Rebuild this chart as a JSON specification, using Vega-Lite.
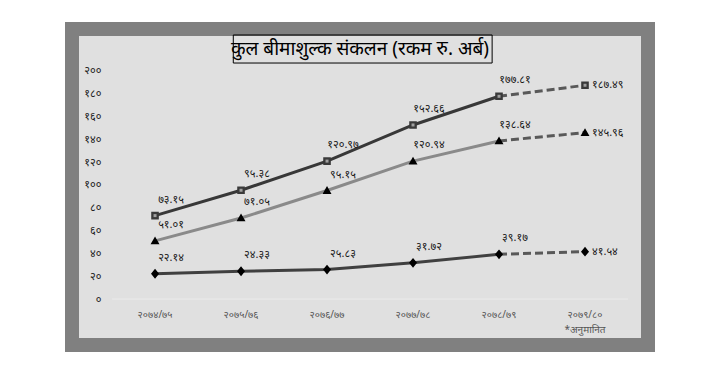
{
  "$schema": "https://vega.github.io/schema/vega-lite/v6.json",
  "width": 576,
  "height": 316,
  "autosize": {"type": "none"},
  "padding": {"left": 72, "top": 29, "right": 69, "bottom": 27},
  "background": "white",
  "title": {
    "text": "कुल बीमाशुल्क संकलन (रकम रु. अर्ब)",
    "fontSize": 19,
    "fontWeight": "normal",
    "color": "#000000",
    "offset": -39,
    "frame": "group",
    "baseline": "middle",
    "anchor": "middle"
  },
  "data": {
    "values": [
      {"year": "२०७४/७५", "series": "जीवन", "value": 51.01, "label": "५१.०१"},
      {"year": "२०७५/७६", "series": "जीवन", "value": 71.05, "label": "७१.०५"},
      {"year": "२०७६/७७", "series": "जीवन", "value": 95.15, "label": "९५.१५"},
      {"year": "२०७७/७८", "series": "जीवन", "value": 120.94, "label": "१२०.९४"},
      {"year": "२०७८/७९", "series": "जीवन", "value": 138.64, "label": "१३८.६४"},
      {"year": "२०७९/८०", "series": "जीवन", "value": 145.96, "label": "१४५.९६"},
      {"year": "२०७४/७५", "series": "निर्जीवन", "value": 22.14, "label": "२२.१४"},
      {"year": "२०७५/७६", "series": "निर्जीवन", "value": 24.33, "label": "२४.३३"},
      {"year": "२०७६/७७", "series": "निर्जीवन", "value": 25.83, "label": "२५.८३"},
      {"year": "२०७७/७८", "series": "निर्जीवन", "value": 31.72, "label": "३१.७२"},
      {"year": "२०७८/७९", "series": "निर्जीवन", "value": 39.17, "label": "३९.१७"},
      {"year": "२०७९/८०", "series": "निर्जीवन", "value": 41.54, "label": "४१.५४"},
      {"year": "२०७४/७५", "series": "जम्मा", "value": 73.15, "label": "७३.१५"},
      {"year": "२०७५/७६", "series": "जम्मा", "value": 95.38, "label": "९५.३८"},
      {"year": "२०७६/७७", "series": "जम्मा", "value": 120.97, "label": "१२०.९७"},
      {"year": "२०७७/७८", "series": "जम्मा", "value": 152.66, "label": "१५२.६६"},
      {"year": "२०७८/७९", "series": "जम्मा", "value": 177.81, "label": "१७७.८१"},
      {"year": "२०७९/८०", "series": "जम्मा", "value": 187.49, "label": "१८७.४९"}
    ]
  },
  "encoding": {
    "x": {
      "field": "year",
      "type": "nominal",
      "sort": null,
      "scale": {
        "type": "band",
        "domain": ["२०७४/७५", "२०७५/७६", "२०७६/७७", "२०७७/७८", "२०७८/७९", "२०७९/८०"],
        "paddingInner": 0,
        "paddingOuter": 0.349,
        "align": 0.667
      },
      "axis": {
        "title": null,
        "orient": "bottom",
        "offset": -36,
        "domain": false,
        "ticks": false,
        "grid": false,
        "labelPadding": 0,
        "labelAngle": 0,
        "labelFontSize": 10,
        "labelColor": "#555555",
        "labelLineHeight": 15,
        "labelExpr": "datum.value == '२०७९/८०' ? ['२०७९/८०', '*अनुमानित'] : datum.value"
      }
    },
    "y": {
      "field": "value",
      "type": "quantitative",
      "scale": {"domain": [-40.35, 236.84], "nice": false, "zero": false},
      "axis": {
        "title": null,
        "offset": -29,
        "domain": false,
        "ticks": false,
        "grid": false,
        "labelPadding": 0,
        "labelFontSize": 11,
        "labelColor": "#222222",
        "values": [0, 20, 40, 60, 80, 100, 120, 140, 160, 180, 200],
        "labelExpr": "replace(replace(replace(replace(replace(replace(replace(replace(replace(replace(datum.label, /0/g, '०'), /1/g, '१'), /2/g, '२'), /3/g, '३'), /4/g, '४'), /5/g, '५'), /6/g, '६'), /7/g, '७'), /8/g, '८'), /9/g, '९')"
      }
    }
  },
  "layer": [
    {
      "transform": [{"filter": "datum.year == '२०७४/७५' && datum.series == 'जम्मा'"}],
      "mark": {"type": "rule", "color": "#ebebeb", "strokeWidth": 1},
      "encoding": {
        "x": {"datum": "२०७४/७५", "bandPosition": 0},
        "x2": {"datum": "२०७९/८०", "bandPosition": 1},
        "y": {"datum": 0}
      }
    },
    {
      "transform": [{"filter": "datum.year != '२०७९/८०'"}],
      "mark": {"type": "line", "strokeWidth": 3},
      "encoding": {
        "stroke": {
          "field": "series",
          "type": "nominal",
          "scale": {"domain": ["जीवन", "निर्जीवन", "जम्मा"], "range": ["#8a8a8a", "#404040", "#383838"]},
          "legend": null
        }
      }
    },
    {
      "transform": [{"filter": "datum.year == '२०७८/७९' || datum.year == '२०७९/८०'"}],
      "mark": {"type": "line", "strokeWidth": 3, "color": "#595959", "strokeDash": [8, 4]},
      "encoding": {
        "detail": {"field": "series", "type": "nominal"}
      }
    },
    {
      "mark": {"type": "point", "filled": true, "size": 80, "opacity": 1},
      "encoding": {
        "shape": {
          "field": "series",
          "type": "nominal",
          "scale": {
            "domain": ["जीवन", "निर्जीवन", "जम्मा"],
            "range": [
              "M-2.6,0H0.5M0,-1L1,0.75L-1,0.75Z",
              "M-2.6,0H0.5M0,-1.1L0.9,0L0,1.1L-0.9,0Z",
              "M-2.6,0H0.5M-0.85,-0.85H0.85V0.85H-0.85Z"
            ]
          },
          "legend": {
            "orient": "none",
            "legendX": 222,
            "legendY": 298,
            "direction": "horizontal",
            "title": null,
            "labelFontSize": 11,
            "labelFontWeight": "bold",
            "labelColor": "#000000",
            "symbolSize": 60,
            "symbolStrokeColor": "#404040",
            "symbolStrokeWidth": 1.5,
            "columnPadding": 12,
            "labelOffset": 1
          }
        },
        "fill": {
          "field": "series",
          "type": "nominal",
          "scale": {"domain": ["जीवन", "निर्जीवन", "जम्मा"], "range": ["#000000", "#000000", "#3a3a3a"]},
          "legend": {
            "orient": "none",
            "legendX": 222,
            "legendY": 298,
            "direction": "horizontal",
            "title": null,
            "labelFontSize": 11,
            "labelFontWeight": "bold",
            "labelColor": "#000000",
            "symbolSize": 60,
            "symbolStrokeColor": "#404040",
            "symbolStrokeWidth": 1.5,
            "columnPadding": 12,
            "labelOffset": 1
          }
        }
      }
    },
    {
      "transform": [{"filter": "datum.series == 'जम्मा'"}],
      "mark": {"type": "point", "filled": true, "shape": "square", "size": 9, "color": "#a0a0a0", "opacity": 1},
      "encoding": {}
    },
    {
      "transform": [{"filter": "datum.year != '२०७९/८०'"}],
      "mark": {"type": "text", "dx": 16, "dy": -16, "fontSize": 11, "color": "#1a1a1a"},
      "encoding": {"text": {"field": "label"}}
    },
    {
      "transform": [{"filter": "datum.year == '२०७९/८०'"}],
      "mark": {"type": "text", "dx": 7, "align": "left", "baseline": "middle", "fontSize": 11, "color": "#1a1a1a"},
      "encoding": {"text": {"field": "label"}}
    },
    {
      "transform": [{"filter": "datum.year == '२०७४/७५' && datum.series == 'जम्मा'"}],
      "mark": {"type": "rect", "fillOpacity": 0, "stroke": "#000000", "strokeWidth": 1},
      "encoding": {
        "x": {"datum": "२०७५/७६", "bandPosition": 0.41},
        "x2": {"datum": "२०७८/७९", "bandPosition": 0.42},
        "y": {"datum": 231.6},
        "y2": {"datum": 207}
      }
    }
  ],
  "config": {
    "font": "Noto Sans",
    "view": {"stroke": "#808080", "strokeWidth": 14, "fill": "#e0e0e0"}
  }
}
